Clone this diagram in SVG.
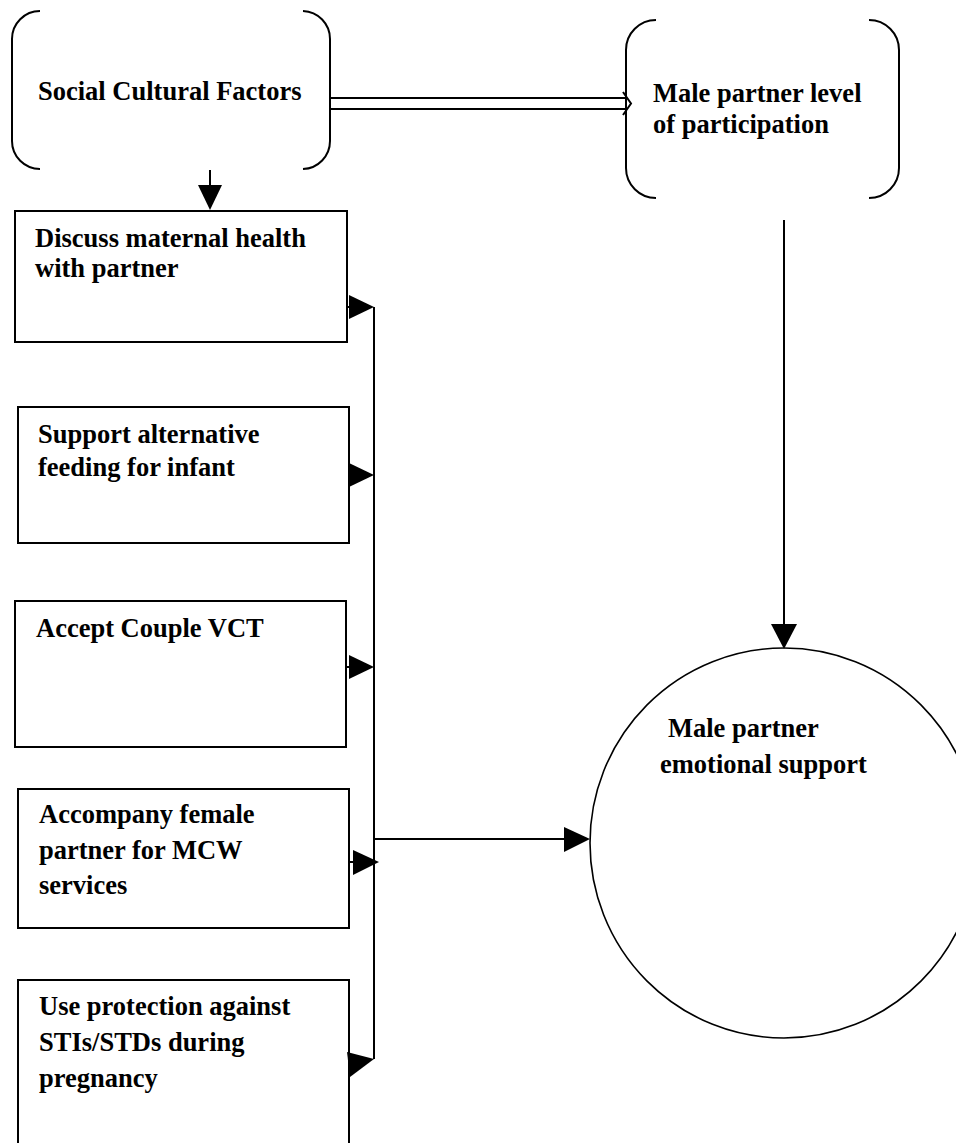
<svg xmlns="http://www.w3.org/2000/svg" width="956" height="1143" viewBox="0 0 956 1143">
<style>
.t{font-family:"Liberation Serif","Times New Roman",serif;font-weight:bold;font-size:26.5px;fill:#000}
.s{fill:none;stroke:#000;stroke-width:2}
.ln{fill:none;stroke:#000;stroke-width:2}
.ah{fill:#000;stroke:none}
</style>
<rect width="956" height="1143" fill="#fff"/>
<g id="social">
<path class="s" d="M40,11 A28,28 0 0 0 12,39 V141 A28,28 0 0 0 40,169 M303,11 A28,28 0 0 1 330,39 V141 A28,28 0 0 1 303,169"/>
<text class="t" x="38" y="100">Social Cultural Factors</text>
</g>
<g id="participation">
<path class="s" d="M656,20 A30,30 0 0 0 626,50 V168 A30,30 0 0 0 656,198 M869,20 A30,30 0 0 1 899,50 V168 A30,30 0 0 1 869,198"/>
<text class="t" x="653" y="102">Male partner level</text>
<text class="t" x="653" y="133">of participation</text>
</g>
<g id="discuss">
<rect class="s" x="15" y="211" width="332" height="131"/>
<text class="t" x="35" y="247">Discuss maternal health</text>
<text class="t" x="35" y="277">with partner</text>
</g>
<g id="feeding">
<rect class="s" x="18" y="407" width="331" height="136"/>
<text class="t" x="38" y="443">Support alternative</text>
<text class="t" x="38" y="476">feeding for infant</text>
</g>
<g id="vct">
<rect class="s" x="15" y="601" width="331" height="146"/>
<text class="t" x="36" y="637">Accept Couple VCT</text>
</g>
<g id="accompany">
<rect class="s" x="18" y="789" width="331" height="139"/>
<text class="t" x="39" y="823">Accompany female</text>
<text class="t" x="39" y="859">partner for MCW</text>
<text class="t" x="39" y="894">services</text>
</g>
<g id="protection">
<rect class="s" x="18" y="980" width="331" height="175"/>
<text class="t" x="39" y="1015">Use protection against</text>
<text class="t" x="39" y="1051">STIs/STDs during</text>
<text class="t" x="39" y="1087">pregnancy</text>
</g>
<g id="emotional">
<ellipse cx="784" cy="843" rx="194" ry="195" fill="none" stroke="#000" stroke-width="1.6"/>
<text class="t" x="668" y="737">Male partner</text>
<text class="t" x="660" y="773">emotional support</text>
</g>
<g id="connectors">
<path class="ln" d="M330,98 H626 M330,109 H626"/>
<path class="ln" stroke-width="1.6" d="M623,92 L631,103.5 L623,115"/>
<path class="ln" d="M210,170 V188"/>
<polygon class="ah" points="198,185 222,185 210,210"/>
<path class="ln" d="M374,307 V1059"/>
<path class="ln" d="M347,307 H351"/>
<polygon class="ah" points="349,295 374,307 349,319"/>
<polygon class="ah" points="349,463 374,475 349,487"/>
<path class="ln" d="M346,667 H351"/>
<polygon class="ah" points="349,655 374,667 349,679"/>
<path class="ln" d="M349,862 H355"/>
<polygon class="ah" points="353,850 379,862 353,875"/>
<polygon class="ah" points="347,1052 374,1059 350,1077"/>
<path class="ln" d="M373,839 H566"/>
<polygon class="ah" points="564,827 590,839 564,852"/>
<path class="ln" d="M784,220 V626"/>
<polygon class="ah" points="771,624 797,624 784,649"/>
</g>
</svg>
